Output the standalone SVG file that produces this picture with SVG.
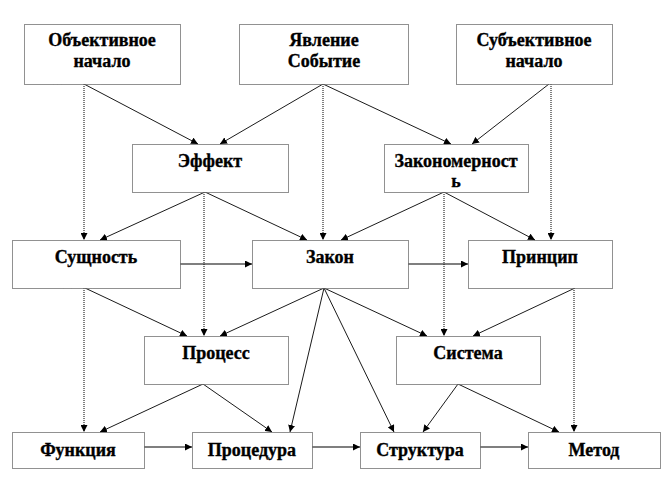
<svg xmlns="http://www.w3.org/2000/svg" width="672" height="480" viewBox="0 0 672 480">
<style>
.box{fill:#fff;stroke:#222;stroke-width:1;stroke-dasharray:1 1}
.t{font-family:'Liberation Serif','Times New Roman',serif;font-weight:700;font-size:18px;fill:#000;stroke:#000;stroke-width:0.35;text-anchor:middle}
.c{stroke:#000;stroke-width:0.9;fill:none;marker-end:url(#ah)}
.v{stroke:#000;stroke-width:1;fill:none;stroke-dasharray:1 1;marker-end:url(#ah)}
.h{stroke:#000;stroke-width:1.2;fill:none;marker-end:url(#ah)}
</style>
<defs>
<marker id="ah" viewBox="0 0 10 10" refX="10" refY="5" markerWidth="7" markerHeight="7" markerUnits="userSpaceOnUse" orient="auto">
<path d="M0,0 L10,5 L0,10 z" fill="#000"/>
</marker>
</defs>
<rect width="672" height="480" fill="#fff"/>
<g id="connectors">
<line class="v" x1="84" y1="84" x2="84" y2="240"/>
<line class="c" x1="84" y1="84" x2="198" y2="144"/>
<line class="c" x1="323" y1="84" x2="220" y2="144"/>
<line class="v" x1="323" y1="84" x2="323" y2="240"/>
<line class="c" x1="323" y1="84" x2="451" y2="144"/>
<line class="c" x1="549" y1="84" x2="472" y2="144"/>
<line class="v" x1="551" y1="84" x2="551" y2="240"/>
<line class="c" x1="205" y1="192" x2="100" y2="240"/>
<line class="v" x1="204" y1="192" x2="204" y2="336"/>
<line class="c" x1="205" y1="192" x2="307" y2="240"/>
<line class="c" x1="444" y1="192" x2="341" y2="240"/>
<line class="v" x1="444" y1="192" x2="444" y2="336"/>
<line class="c" x1="444" y1="192" x2="535" y2="240"/>
<line class="h" x1="180" y1="264" x2="252" y2="264"/>
<line class="h" x1="408" y1="264" x2="468" y2="264"/>
<line class="v" x1="84" y1="288" x2="84" y2="432"/>
<line class="c" x1="85" y1="288" x2="187" y2="336"/>
<line class="c" x1="324" y1="288" x2="220" y2="336"/>
<line class="c" x1="324" y1="288" x2="427" y2="336"/>
<line class="c" x1="324" y1="288" x2="290" y2="432"/>
<line class="c" x1="324" y1="288" x2="394" y2="432"/>
<line class="c" x1="575" y1="288" x2="473" y2="336"/>
<line class="v" x1="574" y1="288" x2="574" y2="432"/>
<line class="c" x1="203" y1="384" x2="100" y2="432"/>
<line class="c" x1="203" y1="384" x2="272" y2="432"/>
<line class="c" x1="458" y1="384" x2="423" y2="432"/>
<line class="c" x1="458" y1="384" x2="559" y2="432"/>
<line class="h" x1="144" y1="447" x2="192" y2="447"/>
<line class="h" x1="312" y1="447" x2="360" y2="447"/>
<line class="h" x1="480" y1="447" x2="528" y2="447"/>
</g>
<g id="n-obj"><rect class="box" x="24.5" y="24.5" width="156" height="60"/><text class="t" x="102" y="46">Объективное</text><text class="t" x="102" y="67">начало</text></g>
<g id="n-yav"><rect class="box" x="239.5" y="24.5" width="169" height="60"/><text class="t" x="324" y="46">Явление</text><text class="t" x="324" y="67">Событие</text></g>
<g id="n-subj"><rect class="box" x="456.5" y="24.5" width="156" height="60"/><text class="t" x="534" y="46">Субъективное</text><text class="t" x="534" y="67">начало</text></g>
<g id="n-eff"><rect class="box" x="132.5" y="144.5" width="156" height="48"/><text class="t" x="210" y="167">Эффект</text></g>
<g id="n-zakm"><rect class="box" x="384.5" y="144.5" width="144" height="48"/><text class="t" x="456" y="167">Закономерност</text><text class="t" x="456" y="187">ь</text></g>
<g id="n-sush"><rect class="box" x="12.5" y="240.5" width="168" height="48"/><text class="t" x="96" y="263">Сущность</text></g>
<g id="n-zakon"><rect class="box" x="252.5" y="240.5" width="156" height="48"/><text class="t" x="330" y="263">Закон</text></g>
<g id="n-princ"><rect class="box" x="468.5" y="240.5" width="144" height="48"/><text class="t" x="540" y="263">Принцип</text></g>
<g id="n-proc"><rect class="box" x="144.5" y="336.5" width="144" height="48"/><text class="t" x="216" y="359">Процесс</text></g>
<g id="n-sist"><rect class="box" x="396.5" y="336.5" width="144" height="48"/><text class="t" x="468" y="359">Система</text></g>
<g id="n-func"><rect class="box" x="12.5" y="432.5" width="132" height="36"/><text class="t" x="78" y="456">Функция</text></g>
<g id="n-proced"><rect class="box" x="192.5" y="432.5" width="120" height="36"/><text class="t" x="252" y="456">Процедура</text></g>
<g id="n-strukt"><rect class="box" x="360.5" y="432.5" width="120" height="36"/><text class="t" x="420" y="456">Структура</text></g>
<g id="n-metod"><rect class="box" x="528.5" y="432.5" width="132" height="36"/><text class="t" x="594" y="456">Метод</text></g>
</svg>
